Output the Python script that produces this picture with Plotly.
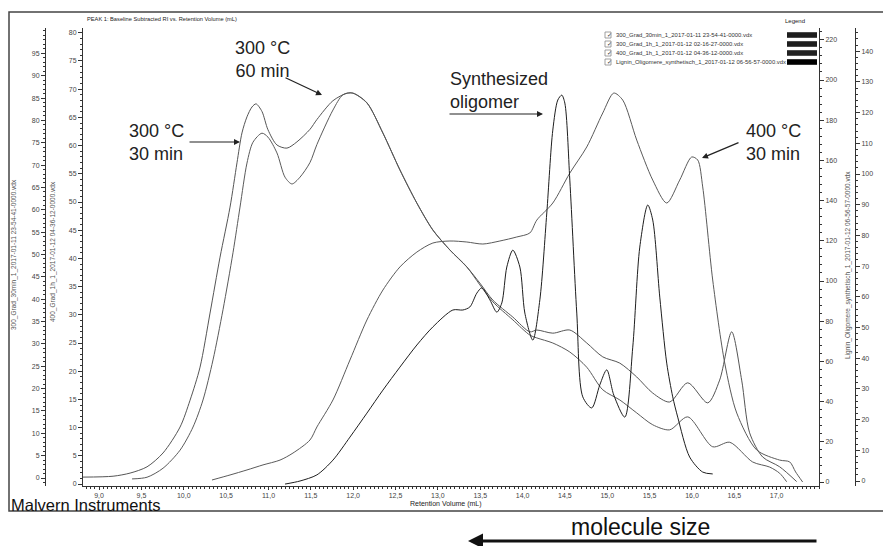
import plotly.graph_objects as go

W, H = 883, 546

# ---------------- data ----------------
rv_300_30 = [8.81, 9.165, 9.366, 9.566, 9.755, 9.956, 10.074, 10.192, 10.310, 10.428, 10.546, 10.628,
             10.687, 10.746, 10.805, 10.853, 10.923, 10.994, 11.100, 11.218, 11.336, 11.490, 11.572,
             11.761, 11.926, 11.997, 12.162, 12.351, 12.552, 12.752, 12.941, 13.142, 13.342, 13.496,
             13.649, 13.885, 14.086, 14.168, 14.357, 14.558, 14.758, 14.947, 15.148, 15.348, 15.537,
             15.737, 15.950, 16.186, 16.327, 16.469, 16.587, 16.681, 16.835, 17.036, 17.236]
ri_300_30 = [0.2, 0.4, 1.1, 2.5, 5.6, 11.4, 17.4, 24.8, 36.9, 49.4, 60.6, 70.5, 77.2, 80.8, 83.0, 83.7,
             82.0, 77.9, 74.5, 73.8, 75.2, 78.0, 80.2, 84.4, 86.1, 86.1, 83.9, 77.2, 68.9, 61.5, 55.5,
             51.0, 47.2, 43.6, 39.8, 36.0, 32.7, 33.1, 32.4, 33.1, 30.2, 27.1, 25.7, 22.6, 19.0, 17.0,
             21.3, 16.8, 21.9, 32.7, 21.9, 10.1, 4.7, 2.5, -0.8]

rv_300_60 = [9.389, 9.566, 9.755, 9.956, 10.109, 10.227, 10.345, 10.463, 10.581, 10.664, 10.746, 10.817,
             10.923, 10.994, 11.100, 11.195, 11.277, 11.372, 11.490, 11.572, 11.761, 11.879, 11.997,
             12.162, 12.351, 12.552, 12.752, 12.941, 13.142, 13.342, 13.496, 13.649, 13.885, 14.086,
             14.168, 14.357, 14.558, 14.758, 14.947, 15.148, 15.348, 15.537, 15.737, 15.950, 16.245,
             16.446, 16.717, 16.918, 17.036, 17.118]
ri_300_60 = [0.9, 1.2, 2.8, 6.0, 10.1, 14.9, 22.0, 30.9, 41.0, 49.1, 56.9, 60.6, 62.2, 61.5, 58.7, 54.4,
             53.2, 54.4, 57.0, 60.2, 66.3, 69.0, 69.3, 67.6, 62.2, 55.7, 49.8, 45.0, 41.5, 38.5, 35.3,
             32.3, 29.1, 26.4, 25.9, 25.0, 23.4, 20.7, 16.7, 14.9, 12.6, 10.5, 9.6, 11.9, 6.6, 7.4, 3.9,
             3.0, 1.9, 0.4]

rv_400_30 = [10.333, 10.546, 10.746, 10.935, 11.136, 11.289, 11.490, 11.572, 11.761, 11.962, 12.162,
             12.351, 12.552, 12.752, 12.941, 13.142, 13.342, 13.531, 13.732, 13.932, 14.086, 14.168,
             14.357, 14.558, 14.758, 14.947, 15.077, 15.183, 15.348, 15.537, 15.702, 15.855, 15.997,
             16.068, 16.127, 16.245, 16.387, 16.529, 16.765, 17.036, 17.154, 17.224, 17.307]
ri_400_30 = [1.0, 3.5, 6.0, 8.5, 10.9, 14.4, 20.9, 27.4, 40.8, 60.7, 80.6, 95.5, 107.0, 114.4, 118.9,
             119.9, 119.4, 118.4, 119.9, 121.9, 123.9, 130.3, 138.8, 153.7, 166.7, 183.6, 193.5, 190.0,
             170.1, 150.2, 138.8, 150.2, 161.7, 160.2, 146.8, 100.5, 59.2, 34.3, 15.9, 10.9, 10.0, 5.0, 0.0]

rv_oligo = [11.195, 11.372, 11.572, 11.761, 11.962, 12.162, 12.351, 12.552, 12.752, 12.941, 13.177,
            13.295, 13.378, 13.460, 13.519, 13.614, 13.696, 13.755, 13.814, 13.885, 13.968, 14.027,
            14.121, 14.204, 14.286, 14.357, 14.416, 14.463, 14.499, 14.558, 14.640, 14.711, 14.817,
            14.912, 14.994, 15.077, 15.207, 15.301, 15.384, 15.478, 15.537, 15.620, 15.702, 15.773,
            15.832, 15.973, 16.127, 16.245]
ri_oligo = [-1.0, 0.0, 2.0, 6.8, 14.3, 22.1, 29.6, 37.1, 44.3, 50.2, 55.7, 55.7, 56.7, 61.2, 62.9, 59.0,
            55.0, 58.0, 69.7, 75.2, 69.7, 54.7, 45.9, 59.0, 87.3, 114.3, 124.1, 125.7, 123.1, 98.0, 54.7,
            27.4, 23.8, 31.3, 36.2, 28.0, 20.8, 43.6, 76.2, 89.9, 85.0, 59.9, 38.4, 27.4, 20.8, 7.8, 2.9, 2.3]

x_ticks = [9.0, 9.5, 10.0, 10.5, 11.0, 11.5, 12.0, 12.5, 13.0, 13.5, 14.0, 14.5, 15.0, 15.5, 16.0, 16.5, 17.0]
x_ticktext = ["9,0", "9,5", "10,0", "10,5", "11,0", "11,5", "12,0", "12,5", "13,0", "13,5",
              "14,0", "14,5", "15,0", "15,5", "16,0", "16,5", "17,0"]
ticks_outer_left = list(range(0, 100, 5))
ticks_inner_left = list(range(0, 85, 5))
ticks_right1 = list(range(0, 240, 20))
ticks_right2 = list(range(0, 150, 10))

legend_names = ["300_Grad_30min_1_2017-01-11 23-54-41-0000.vdx",
                "300_Grad_1h_1_2017-01-12 02-16-27-0000.vdx",
                "400_Grad_1h_1_2017-01-12 04-36-12-0000.vdx",
                "Lignin_Oligomere_synthetisch_1_2017-01-12 06-56-57-0000.vdx"]

for a, b in [(rv_300_30, ri_300_30), (rv_300_60, ri_300_60), (rv_400_30, ri_400_30), (rv_oligo, ri_oligo)]:
    assert len(a) == len(b)

FONT = "Liberation Sans, Arial, sans-serif"


def PX(x):
    return x / W


def PY(y):
    return 1 - y / H


fig = go.Figure()
common = dict(mode="lines", line_shape="spline", hoverinfo="skip")
fig.add_trace(go.Scatter(x=rv_300_30, y=ri_300_30, yaxis="y2", line=dict(color="#555", width=1, smoothing=0.8), **common))
fig.add_trace(go.Scatter(x=rv_300_60, y=ri_300_60, yaxis="y", line=dict(color="#5a5a5a", width=1, smoothing=0.8), **common))
fig.add_trace(go.Scatter(x=rv_400_30, y=ri_400_30, yaxis="y3", line=dict(color="#5a5a5a", width=1, smoothing=0.8), **common))
fig.add_trace(go.Scatter(x=rv_oligo, y=ri_oligo, yaxis="y4", line=dict(color="#1e1e1e", width=1, smoothing=0.8), **common))

axcol = "#333"
tickfont = dict(family=FONT, size=7, color="#444")
ydom = [1 - 486 / H, 1 - 28 / H]


def yax(rng, tv, mdt, **kw):
    d = dict(range=rng, tickvals=tv, ticks="outside", ticklen=4, tickwidth=1, tickcolor=axcol,
             showline=True, linecolor=axcol, linewidth=1, showgrid=False, zeroline=False,
             tickfont=tickfont, automargin=False,
             minor=dict(dtick=mdt, ticks="outside", ticklen=2, tickcolor=axcol, showgrid=False))
    d.update(kw)
    return d


fig.update_layout(
    width=W, height=H, margin=dict(l=0, r=0, t=0, b=0),
    paper_bgcolor="white", plot_bgcolor="white", showlegend=False,
    font=dict(family=FONT, size=7, color="#333"),
    xaxis=dict(domain=[83 / W, 819 / W], range=[8.81, 17.5], tickvals=x_ticks, ticktext=x_ticktext,
               ticks="outside", ticklen=3, tickcolor=axcol, showline=True, linecolor=axcol, linewidth=1,
               showgrid=False, zeroline=False, tickfont=tickfont, anchor="y", automargin=False,
               minor=dict(dtick=0.05, ticks="outside", ticklen=2, tickcolor=axcol, showgrid=False)),
    yaxis=yax([-0.355, 80.85], ticks_inner_left, 1, domain=ydom, anchor="x", side="left"),
    yaxis2=yax([-1.79, 100.67], ticks_outer_left, 1, overlaying="y", anchor="free", position=45 / W, side="left"),
    yaxis3=yax([-1.99, 225.87], ticks_right1, 4, overlaying="y", anchor="x", side="right"),
    yaxis4=yax([-1.63, 147.56], ticks_right2, 2, overlaying="y", anchor="free", position=855 / W, side="right"),
)

ann = []
shapes = []


def text(x, y, s, size, xanchor="left", angle=0, color="#222", align="left"):
    ann.append(dict(x=PX(x), y=PY(y), xref="paper", yref="paper", text=s, showarrow=False,
                    xanchor=xanchor, yanchor="middle", textangle=angle, align=align,
                    font=dict(family=FONT, size=size, color=color)))


def arrow(x0, y0, x1, y1, width=1.2, head=2, size=1.0, color="#222"):
    ann.append(dict(x=PX(x1), y=PY(y1), xref="paper", yref="paper", text="", showarrow=True,
                    ax=x0 - x1, ay=y0 - y1, axref="pixel", ayref="pixel",
                    arrowhead=head, arrowsize=size, arrowwidth=width, arrowcolor=color))


# outer frame
shapes.append(dict(type="rect", xref="paper", yref="paper", x0=PX(9), x1=PX(890), y0=PY(511), y1=PY(12),
                   line=dict(color="#444", width=1.5), fillcolor="rgba(0,0,0,0)"))

# titles
text(85, 19, "PEAK 1: Baseline Subtracted RI vs. Retention Volume (mL)", 5.7)
text(795, 21, "Legend", 6, xanchor="center")
text(446, 504, "Retention Volume (mL)", 7, xanchor="center")
text(9, 504.5, "Malvern Instruments", 16.5, color="#111")
text(640, 527, "molecule size", 23, xanchor="center", color="#111")
arrow(818, 541, 468, 541, width=3, head=2, size=1.0, color="#111")

# axis titles (rotated)
text(14, 255, legend_names[0], 6.5, xanchor="center", angle=-90, color="#555")
text(53, 252, legend_names[2], 6.5, xanchor="center", angle=-90, color="#555")
text(848, 265, legend_names[3], 6.5, xanchor="center", angle=-90, color="#555")

# legend box
rows = [35, 44, 53, 62]
sw_cols = ["#1e1e1e", "#1e1e1e", "#222", "#000"]
for r, name, c in zip(rows, legend_names, sw_cols):
    shapes.append(dict(type="rect", xref="paper", yref="paper", x0=PX(605), x1=PX(611), y0=PY(r + 3), y1=PY(r - 3),
                       line=dict(color="#888", width=0.8), fillcolor="white"))
    text(604.6, r, "✓", 6, color="#333")
    text(614, r, name, 5.9, color="#333")
    shapes.append(dict(type="rect", xref="paper", yref="paper", x0=PX(787), x1=PX(817), y0=PY(r + 2.8), y1=PY(r - 2.8),
                       line=dict(width=0), fillcolor=c))

# curve annotations
text(127, 143, "300 °C<br>30 min", 18)
arrow(188, 142, 240, 142)
text(262, 59, "300 °C<br>60 min", 18, xanchor="center", align="center")
arrow(284, 77, 322, 95)
text(448, 91, "Synthesized<br>oligomer", 18)
arrow(448, 114, 543, 114)
text(744, 143, "400 °C<br>30 min", 18)
arrow(740, 142, 702, 158)

fig.update_layout(annotations=ann, shapes=shapes)
fig.write_html("out.html")
